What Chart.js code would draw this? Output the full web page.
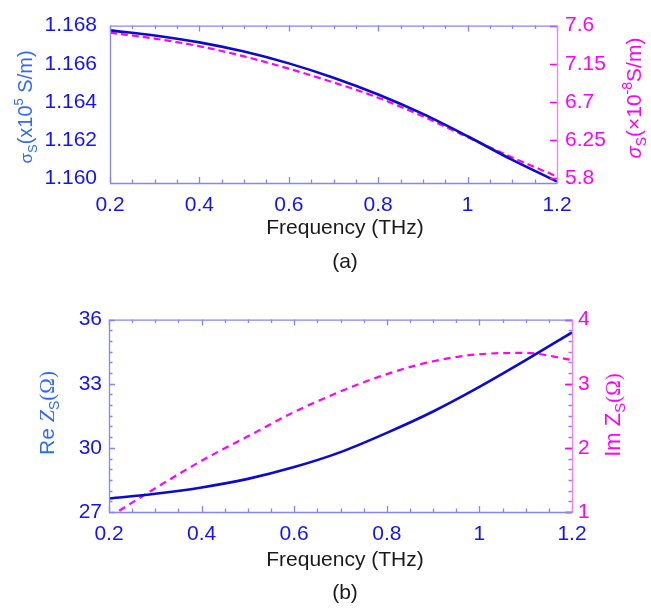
<!DOCTYPE html>
<html>
<head>
<meta charset="utf-8">
<script src="https://cdn.jsdelivr.net/npm/chart.js@4.4.0/dist/chart.umd.min.js"></script>
<style>
  body { margin: 0; background: #fff; }
  .panel { position: absolute; left: 0; }
</style>
</head>
<body>
<div class="panel" style="top:0"><canvas id="chartA" width="651" height="300"></canvas></div>
<div class="panel" style="top:300px"><canvas id="chartB" width="651" height="308"></canvas></div>
<script>
// Frequency grid (THz)
const freq   = [0.2, 0.3, 0.4, 0.5, 0.6, 0.7, 0.8, 0.9, 1.0, 1.1, 1.2];
const xTicks = [0.2, 0.4, 0.6, 0.8, 1, 1.2];

// (a) surface conductivity
const sigmaLeft  = [1.16775, 1.16748, 1.16712, 1.16664, 1.16602, 1.16527, 1.16439, 1.16337, 1.16220, 1.16096, 1.15983]; // x10^5 S/m
const sigmaRight = [7.517, 7.447, 7.357, 7.237, 7.092, 6.93, 6.75, 6.53, 6.285, 6.045, 5.82];                             // x10^-8 S/m
const sigmaTicksL = [1.160, 1.162, 1.164, 1.166, 1.168];
const sigmaTicksR = [5.8, 6.25, 6.7, 7.15, 7.6];

// (b) surface impedance
const zRe = [27.63, 27.85, 28.15, 28.55, 29.1, 29.8, 30.7, 31.7, 32.85, 34.1, 35.4];
const zIm = [0.92, 1.37, 1.80, 2.18, 2.56, 2.88, 3.15, 3.35, 3.46, 3.48, 3.37];
const zTicksL = [27, 30, 33, 36];
const zTicksR = [1, 2, 3, 4];

// colours
const BLUE_TXT   = '#1212ff';
const BLUE_LINE  = '#0b0bcf';
const BLUE_TITLE = '#3068ff';
const FRAME_BLUE = '#8585ff';
const PINK       = '#ff00ff';
const FONT = '"Liberation Sans", Arial, sans-serif';

function pts(vals) {
    return freq.map((f, i) => ({ x: f, y: vals[i] }));
}

function drawRich(ctx, parts, cx, cy) {
    ctx.save();
    ctx.translate(cx, cy);
    ctx.rotate(-Math.PI / 2);
    ctx.textBaseline = 'alphabetic';
    ctx.textAlign = 'left';
    let w = 0;
    parts.forEach(p => {
        ctx.font = p.f;
        p.w = ctx.measureText(p.t).width;
        w += p.w;
    });
    let x = -w / 2;
    parts.forEach(p => {
        ctx.font = p.f;
        ctx.fillStyle = p.c;
        ctx.fillText(p.t, x, 7 + (p.dy || 0));
        x += p.w;
    });
    ctx.restore();
}

// frame, inward tick marks, axis titles and caption
const framePlugin = {
    id: 'frame',
    afterDraw(chart, args, o) {
        const ctx = chart.ctx;
        const a = chart.chartArea;
        const xs = chart.scales.x, yl = chart.scales.yL, yr = chart.scales.yR;
        ctx.save();
        ctx.lineWidth = 1.3;

        // x ticks, bottom and top edges
        ctx.strokeStyle = FRAME_BLUE;
        ctx.beginPath();
        for (let v = xs.min; v <= xs.max + 1e-9; v += o.xMinor) {
            const px = Math.round(xs.getPixelForValue(v)) + 0.5;
            const major = xTicks.some(t => Math.abs(t - v) < 1e-6);
            const len = major ? 6 : 3.5;
            ctx.moveTo(px, a.bottom); ctx.lineTo(px, a.bottom - len);
            ctx.moveTo(px, a.top); ctx.lineTo(px, a.top + len);
        }
        // left y ticks (and mirrored on the right)
        const lt = o.leftTicks;
        for (let v = yl.min; v <= yl.max + 1e-9; v += o.yMinor) {
            const major = lt.some(t => Math.abs(t - v) < 1e-6);
            if (!major && !o.yMinorShow) continue;
            const py = Math.round(yl.getPixelForValue(v)) + 0.5;
            const len = major ? 6 : 3.5;
            ctx.moveTo(a.left, py); ctx.lineTo(a.left + len, py);
            if (o.mirror) { ctx.moveTo(a.right, py); ctx.lineTo(a.right - len, py); }
        }
        ctx.stroke();

        // right y ticks
        ctx.strokeStyle = PINK;
        ctx.beginPath();
        yr.ticks.forEach(t => {
            const py = Math.round(yr.getPixelForValue(t.value)) + 0.5;
            ctx.moveTo(a.right, py); ctx.lineTo(a.right - 7, py);
        });
        ctx.stroke();

        // frame
        ctx.strokeStyle = FRAME_BLUE;
        ctx.beginPath();
        ctx.moveTo(a.right, a.top + 0.5); ctx.lineTo(a.left + 0.5, a.top + 0.5);
        ctx.lineTo(a.left + 0.5, a.bottom + 0.5); ctx.lineTo(a.right, a.bottom + 0.5);
        ctx.stroke();
        ctx.strokeStyle = '#ff77ff';
        ctx.beginPath();
        ctx.moveTo(a.right + 0.5, a.top); ctx.lineTo(a.right + 0.5, a.bottom + 1);
        ctx.stroke();

        // axis titles
        drawRich(ctx, o.titleL, o.titleLPos[0], o.titleLPos[1]);
        drawRich(ctx, o.titleR, o.titleRPos[0], o.titleRPos[1]);

        ctx.fillStyle = '#1a1a1a';
        ctx.font = '21px ' + FONT;
        ctx.textAlign = 'center';
        ctx.textBaseline = 'middle';
        ctx.fillText('Frequency (THz)', o.capX, o.xTitleY);
        ctx.fillText(o.caption, o.capX, o.captionY);
        ctx.restore();
    }
};

function yAxis(pos, min, max, tickVals, color, pad, fmt, width) {
    return {
        type: 'linear',
        position: pos,
        min: min,
        max: max,
        afterBuildTicks: s => { s.ticks = tickVals.map(v => ({ value: v })); },
        afterFit: s => { s.width = width; },
        grid: { display: false, drawTicks: false },
        border: { display: false },
        ticks: {
            color: color,
            autoSkip: false,
            padding: pad,
            font: { family: FONT, size: 21 },
            callback: fmt
        }
    };
}

function makeChart(id, d) {
    return new Chart(document.getElementById(id), {
        type: 'line',
        data: {
            datasets: [
                {
                    data: pts(d.left), yAxisID: 'yL',
                    borderColor: BLUE_LINE, borderWidth: 2.6,
                    pointRadius: 0, cubicInterpolationMode: 'monotone'
                },
                {
                    data: pts(d.right), yAxisID: 'yR',
                    borderColor: PINK, borderWidth: 2.2, borderDash: d.dash,
                    pointRadius: 0, cubicInterpolationMode: 'monotone'
                }
            ]
        },
        options: {
            responsive: false,
            animation: false,
            events: [],
            layout: { padding: { top: d.top, left: 0, right: 0, bottom: 0 } },
            plugins: { legend: { display: false }, tooltip: { enabled: false }, frame: d.frame },
            scales: {
                x: {
                    type: 'linear',
                    min: 0.2,
                    max: 1.2,
                    afterBuildTicks: s => { s.ticks = xTicks.map(v => ({ value: v })); },
                    afterFit: s => { s.height = d.xHeight; },
                    grid: { display: false, drawTicks: false },
                    border: { display: false },
                    ticks: {
                        color: BLUE_TXT,
                        autoSkip: false,
                        maxRotation: 0,
                        padding: d.xPad,
                        font: { family: FONT, size: 21 },
                        callback: v => String(v)
                    }
                },
                yL: yAxis('left', d.minL, d.maxL, d.ticksL, BLUE_TXT, d.padL, d.fmtL, d.leftW),
                yR: yAxis('right', d.minR, d.maxR, d.ticksR, PINK, d.padR, v => String(v), d.rightW)
            }
        },
        plugins: [framePlugin]
    });
}

const sans = s => s + 'px ' + FONT;

makeChart('chartA', {
    left: sigmaLeft, right: sigmaRight, dash: [7, 4],
    top: 18, xHeight: 117, leftW: 110, rightW: 94, xPad: 10,
    minL: 1.15975, maxL: 1.168, ticksL: sigmaTicksL, padL: 13, fmtL: v => v.toFixed(3),
    minR: 5.744, maxR: 7.6, ticksR: sigmaTicksR, padR: 8,
    frame: {
        xMinor: 0.05, yMinor: 0.002, yMinorShow: false, mirror: false, leftTicks: sigmaTicksL,
        titleL: [
            { t: 'σ', f: sans(17), c: BLUE_TITLE },
            { t: 'S', f: sans(13), c: BLUE_TITLE, dy: 5 },
            { t: '(x10', f: sans(20), c: BLUE_TITLE },
            { t: '5', f: sans(13), c: BLUE_TITLE, dy: -9 },
            { t: ' S/m)', f: sans(20), c: BLUE_TITLE }
        ],
        titleLPos: [25, 107],
        titleR: [
            { t: 'σ', f: 'italic ' + sans(20), c: PINK },
            { t: 'S', f: sans(14), c: PINK, dy: 5 },
            { t: '(×10', f: sans(21), c: PINK },
            { t: '-8', f: sans(14), c: PINK, dy: -9 },
            { t: 'S/m)', f: sans(21), c: PINK }
        ],
        titleRPos: [634, 98],
        capX: 345, xTitleY: 228, caption: '(a)', captionY: 262
    }
});

makeChart('chartB', {
    left: zRe, right: zIm, dash: [7, 5],
    top: 16, xHeight: 96, leftW: 109, rightW: 79, xPad: 10,
    minL: 27, maxL: 36, ticksL: zTicksL, padL: 7, fmtL: v => String(v),
    minR: 1, maxR: 4, ticksR: zTicksR, padR: 6,
    frame: {
        xMinor: 0.05, yMinor: 0.5, yMinorShow: true, mirror: true, leftTicks: zTicksL,
        titleL: [
            { t: 'Re ', f: sans(21), c: BLUE_TITLE },
            { t: 'Z', f: 'italic 22px "Liberation Serif", serif', c: BLUE_TITLE },
            { t: 'S', f: sans(14), c: BLUE_TITLE, dy: 5 },
            { t: '(Ω)', f: '21px "Liberation Serif", serif', c: BLUE_TITLE }
        ],
        titleLPos: [47, 113],
        titleR: [
            { t: 'Im Z', f: sans(22), c: PINK },
            { t: 'S', f: sans(15), c: PINK, dy: 5 },
            { t: '(Ω)', f: '21px "Liberation Serif", serif', c: PINK }
        ],
        titleRPos: [613, 115],
        capX: 345, xTitleY: 260, caption: '(b)', captionY: 293
    }
});
</script>
</body>
</html>
